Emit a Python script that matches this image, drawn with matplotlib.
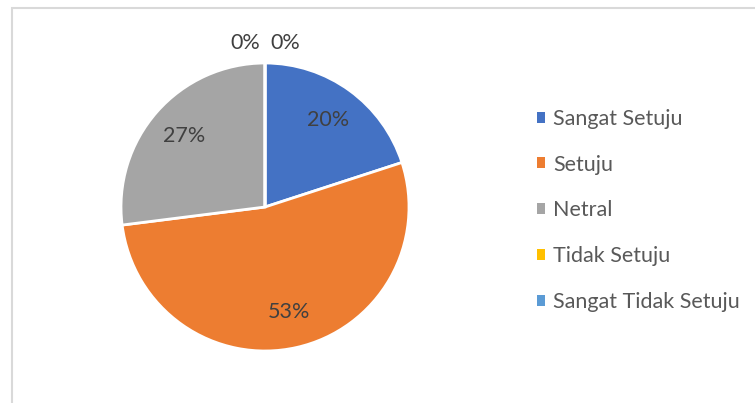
import matplotlib.pyplot as plt
from matplotlib.patches import Rectangle

plt.rcParams["font.family"] = ["Lato", "DejaVu Sans"]

categories = ["Sangat Setuju", "Setuju", "Netral", "Tidak Setuju", "Sangat Tidak Setuju"]
shares = [20, 53, 27, 0, 0]
colors = ["#4472C4", "#ED7D31", "#A5A5A5", "#FFC000", "#5B9BD5"]

W, H = 755, 403
fig = plt.figure(figsize=(W / 100, H / 100), dpi=100)

# light grey chart frame (only left and top edges visible in the crop)
fig.add_artist(Rectangle((11.5 / W, -0.1), 1.2, (H - 7.5) / H + 0.1,
                         transform=fig.transFigure, fill=False,
                         edgecolor="#D9D9D9", linewidth=1.5))

cx, cy, r = 265, H - 207, 144
ax = fig.add_axes([(cx - r) / W, (cy - r) / H, 2 * r / W, 2 * r / H])

wedges, texts, autotexts = ax.pie(
    shares, colors=colors, startangle=90, counterclock=False,
    autopct=lambda p: f"{p:.0f}%", pctdistance=0.75, radius=1,
    wedgeprops=dict(edgecolor="white", linewidth=2),
    textprops=dict(color="#404040", fontsize=15.5),
)
ax.set_xlim(-1, 1)
ax.set_ylim(-1, 1)
ax.axis("off")

# zero slices sit at the top; spread their labels like the original
zero_pos = [(-0.14, 1.14), (0.14, 1.14)]
k = 0
for t, v in zip(autotexts, shares):
    t.set_clip_on(False)
    if v == 0:
        t.set_position(zero_pos[k])
        k += 1

leg = fig.legend(wedges, categories, loc="upper left",
                 bbox_to_anchor=(526 / W, 1 - 98 / H),
                 frameon=False, fontsize=15.5, labelcolor="#595959",
                 handlelength=0.4, handleheight=0.4, handletextpad=0.35,
                 labelspacing=1.2, borderpad=0)
for h in leg.legend_handles:
    h.set_edgecolor("none")

fig.savefig("out.png", dpi=100)
